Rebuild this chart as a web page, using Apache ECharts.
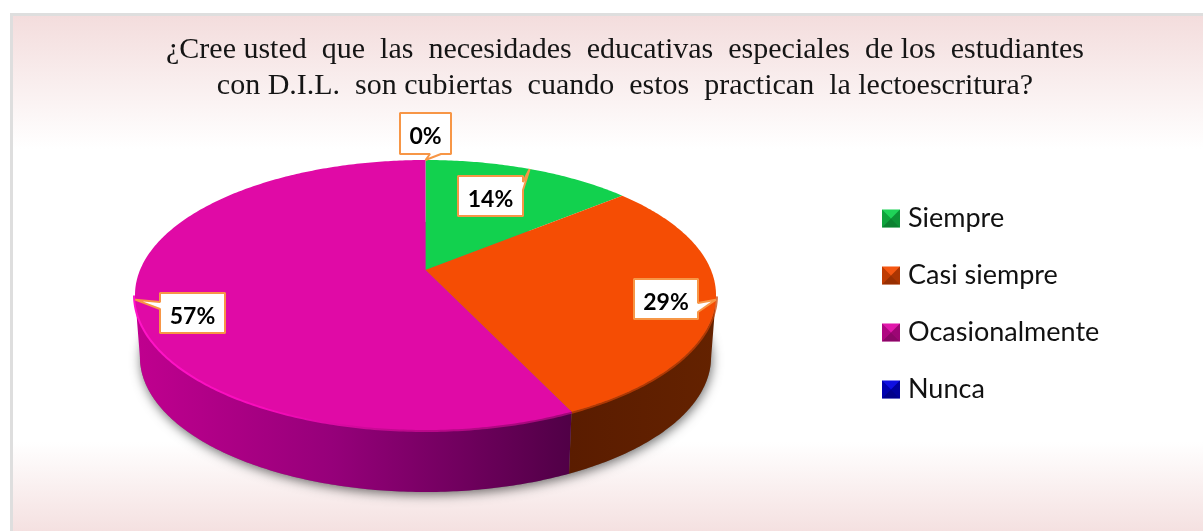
<!DOCTYPE html>
<html><head><meta charset="utf-8">
<style>html,body{margin:0;padding:0;background:#fff}#c{width:1203px;height:531px}</style>
<script src="https://cdn.jsdelivr.net/npm/echarts@6/dist/echarts.min.js"></script>
</head><body><div id="c"></div>
<script>
const titleLines = ['¿Cree usted  que  las  necesidades  educativas  especiales  de los  estudiantes','con D.I.L.  son cubiertas  cuando  estos  practican  la lectoescritura?'];
const categories = ['Siempre','Casi siempre','Ocasionalmente','Nunca'];
const values = [14,29,57,0];
const topColors = ['#12d14e','#f54d04','#e00aa6','#0000e0'];

// layout only
const PERSP = -0.185, WALL_DY = 62/135, WALL_SX = 0.983;
const calloutBoxes = [
  {x:458,y:176,w:65,h:40,b:[[523,182],[523,190]]},
  {x:634,y:279,w:64,h:40,b:[[698,303],[698,312]]},
  {x:160,y:293,w:65,h:40,b:[[160,302],[160,309]]},
  {x:400,y:113,w:51,h:41,b:[[430,154],[441,154]]}
];
const total = values.reduce((a,b)=>a+b,0);
let acc = 0;
const spans = values.map(v=>{const s=acc; acc+=v; return [s/total*Math.PI*2, acc/total*Math.PI*2];});

// disc point at true angle -> tilted ellipse in unit coordinates (perspective keeps the pie apex off-centre)
function disc(a){
  const x=Math.sin(a), y=-Math.cos(a), d=1+PERSP*y;
  return [x*Math.sqrt(1-PERSP*PERSP)/d, (y+PERSP)/d];
}
function rimAngles(a0,a1){const n=Math.max(2,Math.ceil((a1-a0)/0.012)),o=[];for(let i=0;i<=n;i++)o.push(a0+(a1-a0)*i/n);return o;}
const topPt=(api,a)=>{const p=disc(a);return api.coord([p[0],-p[1]]);};
const lowPt=(api,a)=>{const p=disc(a);return api.coord([p[0]*WALL_SX,-(p[1]+WALL_DY)]);};

function wallFill(i){
  if(i===1) return {type:'linear',global:true,x:570,y:0,x2:716,y2:0,colorStops:[{offset:0,color:'#5a1c00'},{offset:1,color:'#642200'}]};
  return {type:'linear',global:true,x:135,y:0,x2:572,y2:0,colorStops:[{offset:0,color:'#c0008f'},{offset:.45,color:'#96007a'},{offset:1,color:'#500046'}]};
}
function rimStroke(i){
  if(i===1) return 'rgba(200,66,6,.75)';
  return {type:'linear',global:true,x:135,y:0,x2:572,y2:0,colorStops:[{offset:0,color:'#ff14c8'},{offset:.3,color:'#f80cbc'},{offset:.6,color:'#c0088e'},{offset:1,color:'#a00878'}]};
}

function renderSlice(i){
  return function(params,api){
    const [a0,a1]=spans[i];
    const children=[];
    if(a1-a0<=0) return {type:'group',children};
    // front wall: only the part of the rim that faces the viewer
    const vis=rimAngles(a0,a1).filter(a=>disc(a)[1]>=0);
    if(vis.length>1){
      const pts=vis.map(a=>topPt(api,a)).concat(vis.slice().reverse().map(a=>lowPt(api,a)));
      children.push({type:'polygon',z2:1,shape:{points:pts},style:{fill:wallFill(i)}});
      children.push({type:'polyline',z2:2,shape:{points:vis.map(a=>topPt(api,a))},
        style:{fill:null,stroke:rimStroke(i),lineWidth:4}});
    }
    const arc=rimAngles(a0,a1).map(a=>topPt(api,a));
    const apex=api.coord([0,-PERSP]);
    children.push({type:'polygon',z2:3,shape:{points:[apex].concat(arc)},style:{fill:topColors[i]}});
    return {type:'group',children};
  };
}
const sliceSeries=categories.map((c,i)=>({
  type:'custom',name:c,coordinateSystem:'cartesian2d',z:3,silent:true,animation:false,
  itemStyle:{color:topColors[i]},
  data:[[values[i],0]],renderItem:renderSlice(i)
}));
const shadowSeries={type:'custom',name:'sombra',coordinateSystem:'cartesian2d',z:2,silent:true,animation:false,
  data:[[0,0]],
  renderItem(params,api){
    const pts=rimAngles(0,Math.PI*2).map(a=>lowPt(api,a));
    return {type:'polygon',shape:{points:pts},style:{fill:'#777',shadowBlur:11,shadowColor:'rgba(0,0,0,.55)',shadowOffsetX:1,shadowOffsetY:3}};
  }};
const labelSeries={type:'custom',name:'etiquetas',coordinateSystem:'cartesian2d',z:6,silent:true,animation:false,
  data:values.map((v,i)=>[v,i]),
  renderItem(params,api){
    const i=api.value(1),v=api.value(0),b=calloutBoxes[i],[a0,a1]=spans[i];
    const tip=topPt(api,(a0+a1)/2);
    const x0=b.x,y0=b.y,x1=b.x+b.w,y1=b.y+b.h,[p,q]=b.b,pts=[[x0,y0],[x1,y0]];
    if(p[0]===x1&&q[0]===x1) pts.push(p,tip,q,[x1,y1],[x0,y1]);
    else if(p[1]===y1) pts.push([x1,y1],q,tip,p,[x0,y1]);
    else pts.push([x1,y1],[x0,y1],q,tip,p);
    return {type:'group',children:[
      {type:'polygon',shape:{points:pts},style:{fill:'#fff',stroke:'#f79646',lineWidth:2,lineJoin:'bevel'}},
      {type:'text',style:{x:(x0+x1)/2,y:(y0+y1)/2+3.5,text:v+'%',align:'center',verticalAlign:'middle',
        font:'bold 23px Lato',fill:'#000'}}
    ]};
  }};

// shading on the legend keys (bevelled squares)
const keyX=882, keyS=18, keyY=[209.5,266.5,323.5,380.5];
const keyShade=[];
keyY.forEach(y=>{
  const c=[keyX+keyS/2,y+keyS/2],tl=[keyX,y],tr=[keyX+keyS,y],br=[keyX+keyS,y+keyS],bl=[keyX,y+keyS];
  [[tl,tr,'rgba(255,255,255,.06)'],[tr,br,'rgba(0,0,0,.3)'],[br,bl,'rgba(0,0,0,.38)'],[bl,tl,'rgba(0,0,0,.22)']].forEach(t=>{
    keyShade.push({type:'polygon',z:50,silent:true,shape:{points:[t[0],t[1],c]},style:{fill:t[2]}});
  });
});

const option={
  animation:false,
  backgroundColor:'#fff',
  title:{text:titleLines.join('\n'),left:625,top:32,textAlign:'center',padding:0,
    textStyle:{fontFamily:'Liberation Serif',fontSize:30,fontWeight:'normal',color:'#151515',lineHeight:36}},
  grid:{left:135,top:160,width:581,height:270},
  xAxis:{type:'value',min:-1,max:1,show:false},
  yAxis:{type:'value',min:-1,max:1,show:false},
  legend:{orient:'vertical',left:882,top:202.5,padding:0,data:categories,icon:'rect',itemWidth:18,itemHeight:18,itemGap:25,
    selectedMode:false,textStyle:{fontFamily:'Lato',fontSize:27,color:'#111',lineHeight:28,padding:[4,0,0,3]}},
  graphic:[{type:'rect',z:-10,silent:true,shape:{x:11.5,y:14.5,width:1205,height:520},
    style:{stroke:'#dedede',lineWidth:3,fill:{type:'linear',x:0,y:0,x2:0,y2:1,colorStops:[
      {offset:0,color:'#f3dcdc'},{offset:.26,color:'#ffffff'},{offset:.82,color:'#ffffff'},{offset:1,color:'#f4dfdf'}]}}}]
    .concat(keyShade),
  series:[shadowSeries].concat(sliceSeries,[labelSeries])
};
echarts.init(document.getElementById('c'),null,{renderer:'canvas'}).setOption(option);
</script></body></html>
